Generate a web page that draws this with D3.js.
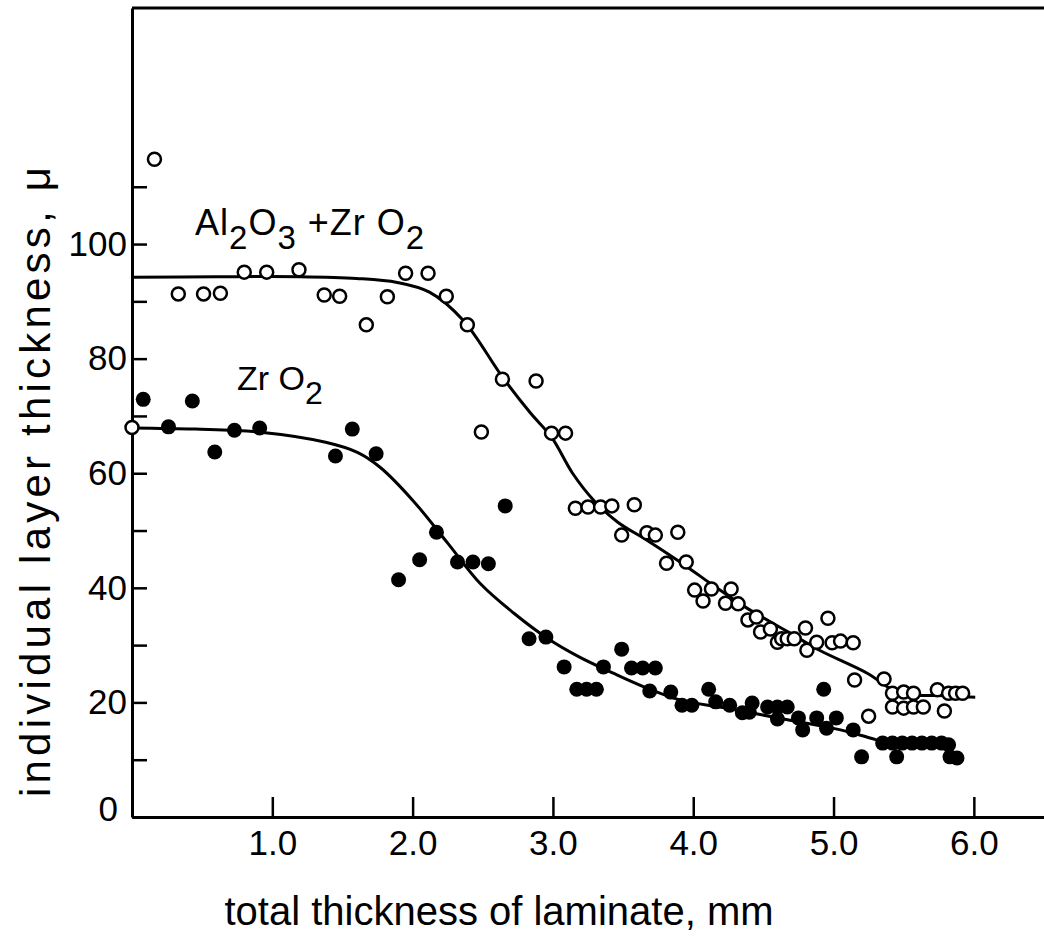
<!DOCTYPE html>
<html>
<head>
<meta charset="utf-8">
<script src="https://cdnjs.cloudflare.com/ajax/libs/d3/7.8.5/d3.min.js"></script>
<style>
  body { margin: 0; background: #fff; }
  text { font-family: "Liberation Sans", Arial, sans-serif; fill: #000; }
</style>
</head>
<body>
<script>
// total thickness (mm), layer thickness (micron)
const mixX = [0.0, 0.16, 0.33, 0.51, 0.63, 0.80, 0.96, 1.19, 1.37, 1.48, 1.67, 1.82, 1.95, 2.11, 2.24, 2.39,
  2.49, 2.64, 2.88, 2.99, 3.09, 3.16, 3.25, 3.34, 3.42, 3.58, 3.49, 3.67, 3.73, 3.81, 3.89, 3.95,
  4.01, 4.07, 4.13, 4.23, 4.27, 4.32, 4.39, 4.45, 4.48, 4.55, 4.60, 4.63, 4.67, 4.72, 4.80, 4.81,
  4.88, 4.96, 4.99, 5.05, 5.14, 5.15, 5.36, 5.25, 5.42, 5.50, 5.57, 5.42, 5.50, 5.57, 5.64,
  5.74, 5.79, 5.82, 5.87, 5.92];
const mixY = [68.0, 114.8, 91.3, 91.3, 91.4, 95.1, 95.1, 95.5, 91.1, 90.9, 85.9, 90.8, 94.9, 94.9, 90.9, 85.9,
  67.2, 76.4, 76.1, 67.0, 67.0, 53.9, 54.1, 54.1, 54.3, 54.5, 49.2, 49.6, 49.2, 44.3, 49.7, 44.5,
  39.6, 37.7, 39.8, 37.3, 39.8, 37.2, 34.4, 34.9, 32.3, 32.8, 30.5, 31.1, 31.1, 31.1, 33.0, 29.1,
  30.5, 34.7, 30.4, 30.7, 30.4, 23.9, 24.1, 17.6, 21.6, 21.8, 21.6, 19.2, 19.0, 19.2, 19.2,
  22.2, 18.5, 21.6, 21.6, 21.6];

const zrX = [0.08, 0.26, 0.43, 0.59, 0.73, 0.91, 1.45, 1.57, 1.74, 1.90, 2.05, 2.17, 2.32, 2.43, 2.54, 2.66,
  2.83, 2.95, 3.08, 3.17, 3.24, 3.31, 3.36, 3.49, 3.56, 3.64, 3.73, 3.69, 3.84, 3.92, 3.99,
  4.11, 4.16, 4.26, 4.35, 4.40, 4.42, 4.53, 4.60, 4.67, 4.60, 4.75, 4.78, 4.88, 4.93, 4.95, 5.02,
  5.14, 5.20, 5.35, 5.42, 5.49, 5.56, 5.63, 5.70, 5.77, 5.82, 5.45, 5.83, 5.88];
const zrY = [72.9, 68.1, 72.6, 63.7, 67.5, 67.9, 63.0, 67.7, 63.4, 41.4, 44.9, 49.7, 44.5, 44.5, 44.2, 54.3,
  31.1, 31.4, 26.2, 22.3, 22.3, 22.3, 26.2, 29.3, 26.0, 26.0, 26.0, 22.0, 21.8, 19.5, 19.5,
  22.3, 20.1, 19.5, 18.2, 18.3, 19.9, 19.2, 19.2, 19.2, 17.1, 17.3, 15.2, 17.3, 22.3, 15.5, 17.3,
  15.2, 10.5, 12.9, 12.9, 12.9, 12.9, 12.9, 12.9, 12.9, 12.6, 10.5, 10.5, 10.3];

// drawn-in curves
const mixCurveX = [0.0, 0.6, 1.20, 1.6, 1.89, 2.12, 2.36, 2.64, 2.84, 2.99, 3.14, 3.29, 3.46, 3.67, 3.96, 4.12, 4.38, 4.69, 4.90, 5.24, 5.47, 5.75, 6.01];
const mixCurveY = [94.2, 94.3, 94.3, 94.0, 93.3, 91.6, 86.7, 76.8, 70.5, 66.3, 60.0, 55.3, 51.5, 48.3, 43.6, 40.8, 36.5, 32.1, 29.1, 25.1, 21.6, 21.2, 20.9];
const zrCurveX = [0.0, 0.45, 0.90, 1.38, 1.61, 1.77, 2.00, 2.25, 2.48, 2.72, 2.96, 3.19, 3.43, 3.67, 3.91, 4.21, 4.69, 5.05, 5.26, 5.40, 5.83];
const zrCurveY = [67.9, 67.7, 67.2, 65.4, 63.6, 61.0, 55.3, 47.8, 40.8, 35.6, 31.2, 27.9, 25.1, 22.5, 20.4, 19.1, 16.9, 15.2, 13.8, 12.9, 12.6];

const xTicks = [1, 2, 3, 4, 5, 6];
const yTicks = [0, 10, 20, 30, 40, 50, 60, 70, 80, 90, 100, 110];
const yLabels = [0, 20, 40, 60, 80, 100];

const W = 1044, H = 945;
const padLeft = 132, padTop = 8, padBottom = 817;

const svg = d3.select("body").append("svg")
  .attr("width", W)
  .attr("height", H);

const x = d3.scaleLinear().domain([0, 6.5]).range([padLeft, W]);
const y = d3.scaleLinear().domain([0, 141.2]).range([padBottom, padTop]);

// axes (ticks point into the plot)
const xAxis = svg.append("g")
  .attr("transform", "translate(0," + padBottom + ")")
  .call(d3.axisBottom(x).tickValues(xTicks).tickSizeInner(-20).tickSizeOuter(0).tickPadding(12)
    .tickFormat(d3.format(".1f")));

const yAxis = svg.append("g")
  .attr("transform", "translate(" + padLeft + ",0)")
  .call(d3.axisLeft(y).tickValues(yTicks).tickSizeInner(-15).tickSizeOuter(0).tickPadding(5)
    .tickFormat(d => yLabels.includes(d) ? d : ""));

[xAxis, yAxis].forEach(g => {
  g.select(".domain").attr("stroke-width", 3);
  g.selectAll(".tick line").attr("stroke-width", 2.5);
  g.selectAll(".tick text").attr("font-size", 35).attr("font-family", "Liberation Sans, Arial, sans-serif");
});
xAxis.selectAll(".tick text").attr("dy", "0.75em");
yAxis.selectAll(".tick text").filter(d => d === 0).attr("dy", "0.1em").attr("x", -14);

// top frame line
svg.append("line")
  .attr("x1", x(0)).attr("x2", x(6.5))
  .attr("y1", y(141.2)).attr("y2", y(141.2))
  .attr("stroke", "#000").attr("stroke-width", 3);

const line = d3.line()
  .x(d => x(d[0]))
  .y(d => y(d[1]))
  .curve(d3.curveCatmullRom.alpha(0.5));

svg.append("path")
  .datum(d3.zip(mixCurveX, mixCurveY))
  .attr("d", line)
  .attr("fill", "none").attr("stroke", "#000").attr("stroke-width", 3);

svg.append("path")
  .datum(d3.zip(zrCurveX, zrCurveY))
  .attr("d", line)
  .attr("fill", "none").attr("stroke", "#000").attr("stroke-width", 3);

// points
svg.selectAll(".zr")
  .data(d3.zip(zrX, zrY))
  .enter().append("circle")
  .attr("class", "zr")
  .attr("cx", d => x(d[0]))
  .attr("cy", d => y(d[1]))
  .attr("r", 7.5)
  .attr("fill", "#000");

svg.selectAll(".mix")
  .data(d3.zip(mixX, mixY))
  .enter().append("circle")
  .attr("class", "mix")
  .attr("cx", d => x(d[0]))
  .attr("cy", d => y(d[1]))
  .attr("r", 6.5)
  .attr("fill", "#fff")
  .attr("stroke", "#000")
  .attr("stroke-width", 2.5);

// series labels
const lab1 = svg.append("text")
  .attr("x", 195).attr("y", 235)
  .attr("font-size", 36)
  .attr("letter-spacing", 1);
lab1.append("tspan").text("Al");
lab1.append("tspan").attr("dy", 14).attr("font-size", 33).text("2");
lab1.append("tspan").attr("dy", -14).text("O");
lab1.append("tspan").attr("dy", 14).attr("font-size", 33).text("3");
lab1.append("tspan").attr("dy", -14).text(" +Zr O");
lab1.append("tspan").attr("dy", 14).attr("font-size", 33).text("2");

const lab2 = svg.append("text")
  .attr("x", 237).attr("y", 390)
  .attr("font-size", 34);
lab2.append("tspan").text("Zr O");
lab2.append("tspan").attr("dy", 14).attr("font-size", 32).text("2");

// axis titles
svg.append("text")
  .attr("x", 499).attr("y", 925)
  .attr("text-anchor", "middle")
  .attr("font-size", 40)
  .text("total thickness of laminate, mm");

svg.append("text")
  .attr("transform", "translate(50,482) rotate(-90)")
  .attr("text-anchor", "middle")
  .attr("font-size", 42)
  .attr("textLength", 630)
  .attr("lengthAdjust", "spacing")
  .text("individual layer thickness, μ");
</script>
</body>
</html>
